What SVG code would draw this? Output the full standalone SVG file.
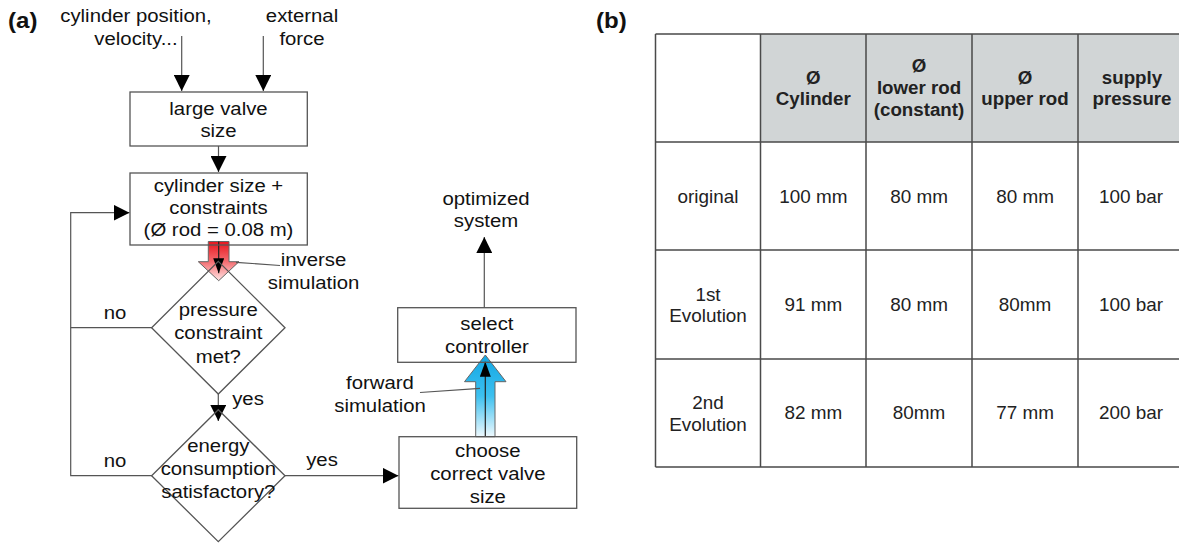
<svg xmlns="http://www.w3.org/2000/svg" width="1179" height="543" viewBox="0 0 1179 543">
<style>
.t{font-family:"Liberation Sans",Arial,Helvetica,sans-serif;font-size:18.5px;fill:#111;text-anchor:middle}
.lbl{font-family:"Liberation Sans",Arial,Helvetica,sans-serif;font-size:21.5px;font-weight:bold;fill:#111}
.tb{font-family:"Liberation Sans",Arial,Helvetica,sans-serif;font-size:18px;fill:#222;text-anchor:middle}
.th{font-family:"Liberation Sans",Arial,Helvetica,sans-serif;font-size:18px;font-weight:bold;fill:#222;text-anchor:middle}
.box{fill:none;stroke:#555;stroke-width:1.3}
.ln{fill:none;stroke:#555;stroke-width:1.2}
.arr{fill:none;stroke:#555;stroke-width:1.2;marker-end:url(#ah)}
.inner{fill:none;stroke:#222;stroke-width:1.2;marker-end:url(#ahs)}
.grid{stroke:#4a4a4a;stroke-width:1.5;fill:none}
</style>
<defs>
<marker id="ah" markerUnits="userSpaceOnUse" viewBox="0 0 16 16" markerWidth="16" markerHeight="16" refX="16" refY="8" orient="auto"><path d="M0,0L16,8L0,16z" fill="#000"/></marker>
<marker id="ahs" markerUnits="userSpaceOnUse" viewBox="0 0 15 11" markerWidth="15" markerHeight="11" refX="15" refY="5.5" orient="auto"><path d="M0,0L15,5.5L0,11z" fill="#000"/></marker>
<linearGradient id="redg" x1="0" y1="0" x2="0" y2="1"><stop offset="0" stop-color="#e8141c"/><stop offset="0.5" stop-color="#f46a6e"/><stop offset="1" stop-color="#ffe4e4"/></linearGradient>
<linearGradient id="blueg" x1="0" y1="0" x2="0" y2="1"><stop offset="0" stop-color="#12a6e4"/><stop offset="0.5" stop-color="#3cc0ef"/><stop offset="1" stop-color="#eef9fe"/></linearGradient>
</defs>
<rect width="1179" height="543" fill="#fff"/>

<text class="lbl" transform="translate(8,28) scale(1.12,1)">(a)</text>
<text class="lbl" transform="translate(596,28) scale(1.12,1)">(b)</text>

<g id="input-position"><text class="t" transform="translate(136,0) scale(1.1,1)"><tspan x="0" y="22.5">cylinder position,</tspan><tspan x="0" y="45.5">velocity...</tspan></text></g>
<g id="input-force"><text class="t" transform="translate(302,0) scale(1.1,1)"><tspan x="0" y="22.5">external</tspan><tspan x="0" y="45.5">force</tspan></text></g>

<g id="connectors">
<line class="arr" x1="181.7" y1="36" x2="181.7" y2="91"/>
<line class="arr" x1="263.3" y1="36" x2="263.3" y2="91"/>
<line class="arr" x1="218.5" y1="146" x2="218.5" y2="172"/>
<polyline class="arr" points="152,475.7 70.7,475.7 70.7,212.7 129.5,212.7"/>
<line class="ln" x1="152" y1="327.7" x2="70.7" y2="327.7"/>
<line class="arr" x1="218.3" y1="394" x2="218.3" y2="421"/>
<line class="arr" x1="285" y1="475.7" x2="398.5" y2="475.7"/>
<line class="arr" x1="484.3" y1="307.7" x2="484.3" y2="237"/>
<g id="inverse-sim-arrow">
<polygon points="208.3,241.5 229,241.5 229,261.7 239,261.7 218.7,280.7 198.3,261.7 208.3,261.7" fill="url(#redg)" stroke="#666" stroke-width="1"/>
<line class="inner" x1="218.7" y1="241.5" x2="218.7" y2="273.3"/>
<line class="ln" x1="236" y1="262.3" x2="280" y2="265.5"/>
</g>
<g id="forward-sim-arrow">
<polygon points="475.7,436.7 495,436.7 495,381.7 506,381.7 485.3,355 464.5,381.7 475.7,381.7" fill="url(#blueg)" stroke="#666" stroke-width="1"/>
<line class="inner" x1="485.3" y1="436.7" x2="485.3" y2="361.7"/>
<line class="ln" x1="420" y1="392.5" x2="480" y2="388.3"/>
</g>
</g>

<g id="node-large-valve">
<rect class="box" x="130" y="92" width="177.3" height="54"/>
<text class="t" transform="translate(218.5,0) scale(1.1,1)"><tspan x="0" y="115">large valve</tspan><tspan x="0" y="137.5">size</tspan></text>
</g>
<g id="node-cylinder">
<rect class="box" x="130" y="173" width="177.3" height="72"/>
<text class="t" transform="translate(218.5,0) scale(1.1,1)"><tspan x="0" y="192">cylinder size +</tspan><tspan x="0" y="213.7">constraints</tspan><tspan x="0" y="235.7">(Ø rod = 0.08 m)</tspan></text>
</g>
<g id="label-inverse"><text class="t" transform="translate(313.5,0) scale(1.1,1)"><tspan x="0" y="266.5">inverse</tspan><tspan x="0" y="289">simulation</tspan></text></g>
<g id="node-pressure">
<polygon class="box" points="218.3,261.4 285,327.7 218.3,394 151.6,327.7"/>
<text class="t" transform="translate(218.3,0) scale(1.1,1)"><tspan x="0" y="316">pressure</tspan><tspan x="0" y="339.5">constraint</tspan><tspan x="0" y="363">met?</tspan></text>
</g>
<g id="node-energy">
<polygon class="box" points="218.3,409.7 285,475.7 218.3,541.7 151.6,475.7"/>
<text class="t" transform="translate(218.3,0) scale(1.1,1)"><tspan x="0" y="452">energy</tspan><tspan x="0" y="475.5">consumption</tspan><tspan x="0" y="498.5">satisfactory?</tspan></text>
</g>
<g id="labels-branch">
<text class="t" transform="translate(115,318.5) scale(1.1,1)">no</text>
<text class="t" transform="translate(115,467) scale(1.1,1)">no</text>
<text class="t" transform="translate(248,405) scale(1.1,1)">yes</text>
<text class="t" transform="translate(322,466) scale(1.1,1)">yes</text>
</g>
<g id="node-choose">
<rect class="box" x="399" y="436.7" width="177.7" height="71.6"/>
<text class="t" transform="translate(487.8,0) scale(1.1,1)"><tspan x="0" y="457">choose</tspan><tspan x="0" y="480">correct valve</tspan><tspan x="0" y="503">size</tspan></text>
</g>
<g id="label-forward"><text class="t" transform="translate(380,0) scale(1.1,1)"><tspan x="0" y="389.5">forward</tspan><tspan x="0" y="411.7">simulation</tspan></text></g>
<g id="node-select">
<rect class="box" x="397.7" y="307.7" width="178.3" height="54.6"/>
<text class="t" transform="translate(486.9,0) scale(1.1,1)"><tspan x="0" y="330.5">select</tspan><tspan x="0" y="353.3">controller</tspan></text>
</g>
<g id="node-optimized"><text class="t" transform="translate(486,0) scale(1.1,1)"><tspan x="0" y="205.5">optimized</tspan><tspan x="0" y="227">system</tspan></text></g>

<g id="table">
<rect x="760.5" y="34" width="423" height="108" fill="#d1d5d6"/>
<path class="grid" d="M655.5,34H1184M655.5,142H1184M655.5,250H1184M655.5,359H1184M655.5,467H1184M655.5,34V467M760.5,34V467M866,34V467M972,34V467M1078,34V467"/>
<text class="th" transform="translate(813.3,0) scale(1.04,1)"><tspan x="0" y="84">Ø</tspan><tspan x="0" y="105">Cylinder</tspan></text>
<text class="th" transform="translate(919,0) scale(1.04,1)"><tspan x="0" y="72">Ø</tspan><tspan x="0" y="94">lower rod</tspan><tspan x="0" y="116">(constant)</tspan></text>
<text class="th" transform="translate(1025,0) scale(1.04,1)"><tspan x="0" y="84">Ø</tspan><tspan x="0" y="105">upper rod</tspan></text>
<text class="th" transform="translate(1132,0) scale(1.04,1)"><tspan x="0" y="84">supply</tspan><tspan x="0" y="105">pressure</tspan></text>
<text class="tb" transform="translate(708,0) scale(1.05,1)"><tspan x="0" y="203">original</tspan></text>
<text class="tb" transform="translate(813.3,0) scale(1.05,1)"><tspan x="0" y="203">100 mm</tspan></text>
<text class="tb" transform="translate(919,0) scale(1.05,1)"><tspan x="0" y="203">80 mm</tspan></text>
<text class="tb" transform="translate(1025,0) scale(1.05,1)"><tspan x="0" y="203">80 mm</tspan></text>
<text class="tb" transform="translate(1131,0) scale(1.05,1)"><tspan x="0" y="203">100 bar</tspan></text>
<text class="tb" transform="translate(708,0) scale(1.05,1)"><tspan x="0" y="300.7">1st</tspan><tspan x="0" y="321.7">Evolution</tspan></text>
<text class="tb" transform="translate(813.3,0) scale(1.05,1)"><tspan x="0" y="311">91 mm</tspan></text>
<text class="tb" transform="translate(919,0) scale(1.05,1)"><tspan x="0" y="311">80 mm</tspan></text>
<text class="tb" transform="translate(1025,0) scale(1.05,1)"><tspan x="0" y="311">80mm</tspan></text>
<text class="tb" transform="translate(1131,0) scale(1.05,1)"><tspan x="0" y="311">100 bar</tspan></text>
<text class="tb" transform="translate(708,0) scale(1.05,1)"><tspan x="0" y="409">2nd</tspan><tspan x="0" y="430.7">Evolution</tspan></text>
<text class="tb" transform="translate(813.3,0) scale(1.05,1)"><tspan x="0" y="419.5">82 mm</tspan></text>
<text class="tb" transform="translate(919,0) scale(1.05,1)"><tspan x="0" y="419.5">80mm</tspan></text>
<text class="tb" transform="translate(1025,0) scale(1.05,1)"><tspan x="0" y="419.5">77 mm</tspan></text>
<text class="tb" transform="translate(1131,0) scale(1.05,1)"><tspan x="0" y="419.5">200 bar</tspan></text>
</g>
</svg>
